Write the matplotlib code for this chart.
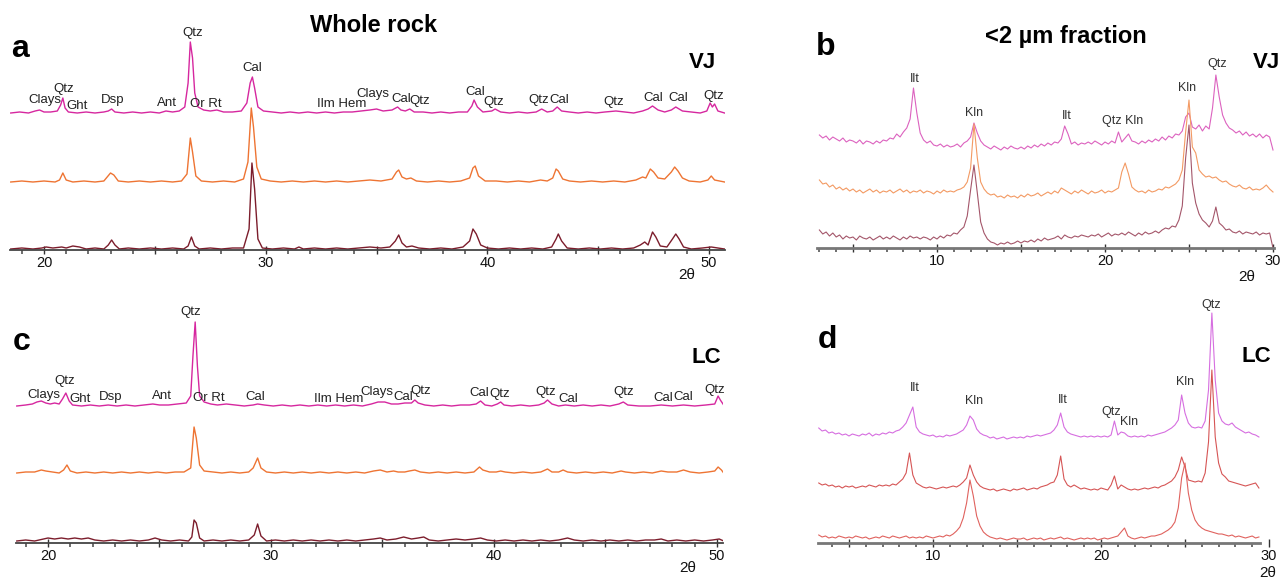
# XRD patterns: whole rock (a, c) and <2 um fraction (b, d) for VJ and LC.

import numpy as np
import matplotlib
matplotlib.use('Agg')
import matplotlib.pyplot as plt
from matplotlib.ticker import MultipleLocator, FuncFormatter

W, H = 1288, 583

# ---- whole rock, VJ (2theta, relative intensity) ----
a_top = [(18.5, 0), (18.9, 1), (19.3, 0), (19.6, 2), (19.8, 3), (20.0, 1), (20.3, 1), (20.6, 2),
         (20.75, 8), (20.85, 15), (20.95, 5), (21.1, 1), (21.5, 0), (21.9, 1), (22.3, 0), (22.7, 1),
         (22.9, 2), (23.05, 4), (23.2, 1), (23.6, 0), (24.0, 1), (24.4, 0), (24.8, 1), (25.2, 0),
         (25.5, 2), (25.8, 1), (26.1, 2), (26.35, 6), (26.5, 30), (26.6, 71), (26.7, 55), (26.8, 20),
         (26.95, 6), (27.2, 3), (27.5, 2), (27.8, 3), (28.1, 1), (28.5, 1), (28.9, 2), (29.15, 10),
         (29.3, 30), (29.4, 36), (29.5, 25), (29.65, 6), (29.9, 2), (30.3, 1), (30.7, 0), (31.1, 1),
         (31.5, 0), (31.9, 1), (32.3, 0), (32.7, 1), (33.1, 0), (33.5, 1), (33.9, 1), (34.3, 2),
         (34.7, 3), (35.0, 4), (35.3, 2), (35.7, 3), (35.95, 6), (36.1, 3), (36.3, 2), (36.5, 4),
         (36.7, 1), (37.1, 1), (37.5, 0), (37.9, 1), (38.3, 0), (38.7, 1), (39.1, 1), (39.3, 7),
         (39.4, 13), (39.55, 6), (39.8, 1), (40.2, 2), (40.35, 4), (40.6, 1), (41.0, 0), (41.4, 1),
         (41.8, 0), (42.2, 1), (42.45, 4), (42.7, 1), (42.95, 2), (43.15, 6), (43.35, 2), (43.7, 1),
         (44.1, 0), (44.5, 1), (44.9, 0), (45.3, 1), (45.8, 2), (46.2, 1), (46.6, 0), (47.0, 2),
         (47.25, 4), (47.45, 7), (47.7, 3), (48.0, 1), (48.3, 3), (48.5, 6), (48.8, 2), (49.2, 1),
         (49.6, 0), (49.9, 2), (50.05, 10), (50.15, 6), (50.25, 9), (50.4, 2), (50.7, 0)]
a_mid = [(18.5, 0), (19.0, 1), (19.5, 0), (20.0, 1), (20.5, 0), (20.7, 2), (20.85, 9), (21.0, 2),
         (21.3, 0), (21.8, 1), (22.3, 0), (22.7, 1), (22.85, 5), (23.0, 9), (23.15, 7), (23.35, 1),
         (23.8, 0), (24.3, 1), (24.8, 0), (25.3, 1), (25.8, 0), (26.2, 1), (26.45, 8), (26.6, 44),
         (26.7, 30), (26.85, 6), (27.1, 1), (27.6, 0), (28.1, 1), (28.6, 0), (29.0, 3), (29.2, 20),
         (29.35, 74), (29.45, 55), (29.6, 15), (29.8, 3), (30.2, 1), (30.7, 0), (31.2, 1), (31.7, 0),
         (32.2, 1), (32.7, 0), (33.2, 1), (33.7, 0), (34.2, 1), (34.7, 2), (35.2, 1), (35.7, 3),
         (35.9, 10), (36.0, 12), (36.15, 5), (36.35, 3), (36.55, 4), (36.8, 1), (37.3, 0), (37.8, 1),
         (38.3, 0), (38.8, 1), (39.2, 4), (39.35, 14), (39.45, 16), (39.6, 6), (39.9, 1), (40.4, 1),
         (40.9, 0), (41.4, 1), (41.9, 0), (42.4, 2), (42.7, 1), (42.95, 4), (43.1, 13), (43.2, 11),
         (43.4, 3), (43.7, 1), (44.2, 0), (44.7, 1), (45.2, 0), (45.7, 1), (46.2, 0), (46.7, 2),
         (47.0, 5), (47.15, 4), (47.35, 13), (47.5, 10), (47.7, 4), (48.0, 3), (48.3, 10), (48.45, 15),
         (48.6, 11), (48.8, 4), (49.1, 1), (49.6, 0), (49.95, 2), (50.1, 6), (50.25, 2), (50.7, 0)]
a_bot = [(18.5, 0), (19.0, 1), (19.5, 0), (19.9, 1), (20.1, 2), (20.4, 1), (20.8, 2), (21.0, 1),
         (21.3, 3), (21.6, 2), (21.9, 0), (22.3, 1), (22.7, 0), (22.9, 4), (23.05, 9), (23.2, 4),
         (23.4, 0), (23.8, 1), (24.3, 0), (24.8, 1), (25.3, 0), (25.8, 1), (26.3, 0), (26.5, 3),
         (26.65, 12), (26.8, 3), (27.0, 0), (27.5, 1), (28.0, 0), (28.5, 1), (29.0, 1), (29.25, 20),
         (29.38, 86), (29.5, 60), (29.65, 10), (29.85, 1), (30.3, 0), (30.8, 1), (31.3, 0), (31.5, 2),
         (31.7, 0), (32.2, 1), (32.7, 0), (33.2, 1), (33.7, 0), (34.2, 1), (34.7, 2), (35.2, 1),
         (35.6, 2), (35.85, 8), (36.0, 14), (36.15, 6), (36.35, 2), (36.6, 3), (36.9, 1), (37.4, 0),
         (37.9, 1), (38.4, 0), (38.9, 2), (39.2, 8), (39.35, 20), (39.5, 15), (39.7, 4), (40.0, 1),
         (40.5, 0), (41.0, 1), (41.5, 0), (42.0, 1), (42.5, 0), (42.9, 2), (43.1, 10), (43.2, 15),
         (43.35, 8), (43.6, 1), (44.1, 0), (44.6, 1), (45.1, 0), (45.6, 1), (46.1, 0), (46.6, 1),
         (46.9, 4), (47.1, 7), (47.25, 4), (47.45, 17), (47.6, 12), (47.8, 3), (48.1, 2), (48.35, 10),
         (48.5, 15), (48.65, 10), (48.85, 2), (49.2, 0), (49.7, 1), (50.1, 2), (50.7, 0)]

# ---- whole rock, LC ----
c_top = [(18.6, 0), (19.0, 1), (19.3, 2), (19.5, 4), (19.7, 5), (19.9, 3), (20.1, 2), (20.3, 3),
         (20.5, 2), (20.65, 7), (20.8, 13), (20.95, 5), (21.1, 1), (21.5, 0), (21.9, 1), (22.3, 0),
         (22.7, 1), (23.1, 0), (23.5, 1), (23.9, 0), (24.3, 1), (24.7, 2), (25.0, 1), (25.4, 1),
         (25.8, 2), (26.2, 3), (26.4, 10), (26.5, 50), (26.6, 84), (26.7, 40), (26.8, 10), (27.0, 4),
         (27.3, 2), (27.6, 1), (28.0, 2), (28.4, 1), (28.8, 0), (29.2, 1), (29.4, 2), (29.7, 1),
         (30.1, 0), (30.5, 1), (30.9, 0), (31.3, 1), (31.7, 0), (32.1, 1), (32.5, 0), (32.9, 1),
         (33.3, 0), (33.7, 1), (34.1, 0), (34.5, 2), (34.8, 4), (35.1, 4), (35.4, 2), (35.7, 2),
         (36.0, 3), (36.3, 3), (36.45, 6), (36.6, 3), (36.9, 1), (37.3, 0), (37.7, 1), (38.1, 0),
         (38.5, 1), (38.9, 1), (39.2, 2), (39.4, 5), (39.6, 1), (39.9, 0), (40.15, 2), (40.3, 4),
         (40.45, 1), (40.8, 0), (41.2, 1), (41.6, 0), (42.0, 1), (42.25, 3), (42.4, 6), (42.6, 2),
         (42.9, 0), (43.2, 1), (43.6, 0), (44.0, 1), (44.4, 0), (44.8, 1), (45.2, 0), (45.6, 2),
         (45.8, 4), (46.0, 1), (46.5, 0), (47.0, 0), (47.5, 1), (48.0, 0), (48.5, 1), (49.0, 0),
         (49.5, 1), (49.9, 2), (50.05, 10), (50.15, 6), (50.3, 1)]
c_mid = [(18.6, 0), (19.0, 1), (19.4, 1), (19.7, 3), (19.9, 2), (20.2, 1), (20.5, 0), (20.7, 3),
         (20.85, 8), (21.0, 2), (21.3, 0), (21.7, 1), (22.1, 0), (22.5, 1), (22.9, 0), (23.3, 1),
         (23.7, 0), (24.1, 1), (24.5, 0), (24.9, 1), (25.3, 0), (25.7, 1), (26.1, 1), (26.4, 5),
         (26.55, 46), (26.65, 35), (26.8, 8), (27.0, 2), (27.4, 1), (27.8, 0), (28.2, 1), (28.6, 0),
         (29.0, 1), (29.2, 5), (29.4, 15), (29.55, 5), (29.8, 1), (30.2, 0), (30.6, 1), (31.0, 0),
         (31.4, 1), (31.8, 0), (32.2, 1), (32.6, 0), (33.0, 1), (33.4, 0), (33.8, 1), (34.2, 0),
         (34.6, 2), (34.9, 3), (35.2, 1), (35.5, 2), (35.7, 1), (36.0, 1), (36.2, 2), (36.45, 3),
         (36.7, 1), (37.1, 0), (37.5, 1), (37.9, 0), (38.3, 1), (38.7, 0), (39.1, 1), (39.35, 6),
         (39.5, 3), (39.8, 1), (40.1, 1), (40.3, 2), (40.5, 1), (40.9, 0), (41.3, 1), (41.7, 0),
         (42.1, 1), (42.4, 4), (42.6, 1), (42.9, 1), (43.1, 3), (43.3, 1), (43.7, 0), (44.1, 1),
         (44.5, 0), (44.9, 1), (45.3, 0), (45.7, 2), (45.9, 1), (46.3, 0), (46.7, 1), (47.1, 0),
         (47.5, 2), (47.8, 1), (48.2, 1), (48.5, 3), (48.8, 1), (49.2, 0), (49.6, 1), (49.9, 2),
         (50.05, 6), (50.2, 3), (50.3, 0)]
c_bot = [(18.6, 0), (19.0, 1), (19.4, 0), (19.8, 2), (20.0, 3), (20.3, 2), (20.6, 3), (20.9, 2),
         (21.2, 3), (21.5, 2), (21.8, 3), (22.1, 1), (22.5, 0), (22.9, 1), (23.3, 0), (23.7, 1),
         (24.1, 0), (24.5, 1), (24.8, 3), (25.1, 1), (25.5, 0), (25.9, 1), (26.3, 0), (26.45, 4),
         (26.55, 21), (26.65, 18), (26.8, 3), (27.0, 0), (27.4, 1), (27.8, 0), (28.2, 1), (28.6, 0),
         (29.0, 1), (29.25, 6), (29.4, 17), (29.55, 5), (29.8, 0), (30.2, 1), (30.6, 0), (31.0, 1),
         (31.4, 0), (31.8, 1), (32.2, 0), (32.6, 1), (33.0, 0), (33.4, 1), (33.8, 0), (34.2, 1),
         (34.6, 2), (34.9, 3), (35.2, 1), (35.6, 2), (35.95, 4), (36.3, 2), (36.6, 3), (36.85, 4),
         (37.1, 1), (37.5, 0), (37.9, 1), (38.3, 2), (38.7, 1), (39.1, 2), (39.4, 3), (39.7, 1),
         (40.1, 0), (40.5, 1), (40.9, 0), (41.3, 1), (41.7, 0), (42.1, 1), (42.5, 0), (42.9, 1),
         (43.3, 3), (43.6, 1), (44.0, 0), (44.4, 1), (44.8, 0), (45.2, 1), (45.6, 0), (46.0, 1),
         (46.4, 0), (46.8, 1), (47.2, 1), (47.5, 2), (47.8, 0), (48.2, 1), (48.6, 0), (49.0, 1),
         (49.4, 0), (49.8, 1), (50.1, 2), (50.3, 0)]

# ---- <2 um fraction, scan from 3.0 deg, 0.2 deg step ----
b_start, b_step = 3.0, 0.2
b_top = [8, 5, 7, 3, 6, 4, 2, 5, 1, 3,            # 3.0
         2, 0, 3, -1, 2, 1, -1, 2, 0, 3,          # 5.0
         2, 5, 4, 9, 6, 11, 15, 24, 55, 30,       # 7.0
         10, 3, 0, 2, -2, -3, -1, -4, -2, -4,     # 9.0
         -3, -1, -4, 0, 2, 6, 20, 10, 2, -2,      # 11.0
         -4, -6, -3, -5, -7, -4, -6, -3, -5, -6,  # 13.0
         -4, -6, -3, -5, -2, -4, -1, -3, 0, -2,   # 15.0
         1, 0, 4, 17, 9, -1, 1, -2, 0, -1,        # 17.0
         1, -1, 2, 0, -2, 1, -1, 2, 0, 11,        # 19.0
         1, 5, 9, 2, 1, -1, 2, 0, 3, 1,           # 21.0
         4, 2, 6, 3, 7, 5, 9, 8, 12, 26,          # 23.0
         30, 16, 14, 18, 12, 17, 14, 35, 68, 46,  # 25.0
         28, 20, 15, 13, 10, 12, 8, 11, 7, 9,     # 27.0
         6, 9, 5, 8, 6, -7]                       # 29.0
b_mid = [12, 8, 9, 5, 7, 3, 5, 2, 4, 1,
         3, 0, 2, -1, 1, 3, 0, 2, -1, 1,
         0, 2, -1, 1, 3, 0, 2, -1, 1, 0,
         2, -1, 1, 0, -2, 1, -1, 2, 0, 1,
         0, 2, 3, 5, 10, 24, 68, 34, 10, 3,
         -1, -3, -2, -5, -4, -6, -3, -5, -4, -6,
         -3, -5, -2, -4, -3, -1, -4, -2, 0, -2,
         1, -1, 4, 2, 0, -2, 1, -1, 2, 0,
         -2, 1, -1, 0, 2, -1, 1, 0, 2, 4,
         20, 29, 18, 5, 2, 0, 1, -1, 2, 0,
         1, 3, 2, 5, 4, 6, 8, 12, 22, 60,
         92, 45, 39, 22, 18, 15, 16, 14, 15, 12,
         10, 11, 8, 6, 5, 7, 4, 3, 5, 2,
         3, 2, 4, 7, 3, 0]
b_bot = [8, 4, 6, 2, 5, 1, 3, -1, 2, 0,
         1, -2, 2, 0, -1, 1, -2, 0, 2, -1,
         1, -1, 2, 0, -2, 1, -1, 2, 0, 1,
         -1, 1, 0, -2, 1, -1, 2, 0, 3, 2,
         5, 4, 8, 11, 22, 48, 73, 45, 16, 5,
         -1, -4, -5, -7, -5, -6, -4, -6, -5, -3,
         -5, -3, -4, -2, -4, -1, -3, 0, -2, -1,
         0, 2, -1, 3, 1, 0, 2, 1, 3, 2,
         1, 3, 2, 4, 1, 3, 5, 2, 4, 3,
         5, 3, 6, 4, 2, 5, 3, 6, 4, 5,
         7, 5, 8, 10, 9, 12, 11, 18, 32, 80,
         113, 55, 35, 24, 18, 15, 11, 17, 31, 15,
         12, 8, 9, 6, 5, 7, 4, 6, 5, 4,
         6, 3, 5, 4, 5, -10]

d_start, d_step = 3.2, 0.2
d_top = [7, 4, 5, 2, 3, 1, 2, 0, 1, -1,           # 3.2
         1, 0, -1, 1, 0, 2, -1, 1, 0, 2,          # 5.2
         1, 3, 2, 4, 5, 8, 12, 20, 28, 8,         # 7.2
         3, 1, 0, -1, 0, -2, -1, -2, 0, -1,       # 9.2
         0, 1, 3, 5, 10, 19, 15, 6, 2, 0,         # 11.2
         -1, -3, -2, -4, -3, -2, -4, -3, -2, -3,  # 13.2
         -2, -3, -1, -2, -1, 0, -1, 0, 1, 2,      # 15.2
         5, 10, 22, 8, 3, 1, 0, -1, -2, -1,       # 17.2
         -2, -1, -2, -1, -2, -1, -2, 0, 14, 0,    # 19.2
         3, 2, -1, -2, -1, -2, -1, -2, 0, -1,     # 21.2
         0, 1, 2, 3, 5, 7, 10, 15, 40, 22,        # 23.2
         12, 8, 7, 8, 7, 14, 45, 122, 55, 22,     # 25.2
         14, 11, 10, 12, 8, 6, 4, 2, 3, 1,        # 27.2
         0, -2]                                   # 29.2
d_mid = [4, 2, 3, 1, 2, 0, 1, -1, 1, 0,
         1, -1, 0, 1, 0, 2, 1, 0, 2, 1,
         2, 1, 3, 2, 5, 8, 14, 34, 12, 4,
         2, 0, -1, 0, -1, -2, -1, 0, -1, 0,
         1, 0, 2, 5, 9, 22, 12, 5, 1, -1,
         -2, -3, -2, -4, -3, -2, -3, -4, -2, -3,
         -2, -1, -3, -2, -1, -2, 0, 1, 2, 4,
         5, 12, 31, 8, 2, 0, 2, 0, -2, -1,
         -2, -3, -2, -3, -1, -2, -3, 2, 11, -2,
         2, 0, -2, -3, -2, -3, -2, -1, -2, -1,
         0, -1, 1, 2, 4, 6, 10, 17, 30, 20,
         7, 6, 5, 6, 5, 14, 45, 117, 50, 24,
         13, 10, 6, 5, 4, 3, 2, 1, 2, 3,
         4, -1]
d_bot = [3, 1, 2, 0, 1, 0, 2, 1, 0, 1,
         0, 2, 1, 0, 1, -1, 0, 1, 0, 2,
         1, 0, 2, 1, 0, 1, 2, 0, 1, 0,
         1, 0, 2, 1, 0, 1, 2, 1, 3, 2,
         4, 7, 11, 20, 35, 58, 42, 22, 12, 6,
         3, 1, 0, -1, 0, -1, -2, -1, 0, -1,
         -1, 0, -2, -1, 0, -1, 0, -2, -1, 0,
         -1, 0, 1, -1, 0, -1, -2, -1, 0, -1,
         0, -1, 0, -2, -1, 0, -1, 0, 1, 2,
         6, 10, 2, 0, -1, 0, 1, 0, 1, 2,
         2, 3, 4, 6, 8, 11, 16, 30, 60, 75,
         45, 28, 18, 13, 10, 8, 7, 6, 5, 4,
         4, 3, 2, 3, 1, 2, 1, 0, 1, 2,
         0, 1]

# phase labels: (text, 2theta, height above axis)
a_labels = [("Clays", 20.05, 150), ("Qtz", 20.9, 161), ("Ght", 21.5, 144), ("Dsp", 23.1, 150),
            ("Ant", 25.55, 147), ("Qtz", 26.72, 217), ("Or Rt", 27.3, 146), ("Cal", 29.4, 182),
            ("Ilm Hem", 33.45, 146), ("Clays", 34.85, 156), ("Cal", 36.1, 151), ("Qtz", 36.95, 149),
            ("Cal", 39.45, 158), ("Qtz", 40.3, 148), ("Qtz", 42.3, 150), ("Cal", 43.25, 150),
            ("Qtz", 45.7, 148), ("Cal", 47.5, 152), ("Cal", 48.6, 152), ("Qtz", 50.2, 154)]
c_labels = [("Clays", 19.8, 148), ("Qtz", 20.75, 162), ("Ght", 21.45, 144), ("Dsp", 22.8, 146),
            ("Ant", 25.1, 147), ("Qtz", 26.4, 231), ("Or Rt", 27.2, 145), ("Cal", 29.3, 146),
            ("Ilm Hem", 33.05, 144), ("Clays", 34.75, 151), ("Cal", 35.95, 146), ("Qtz", 36.7, 152),
            ("Cal", 39.35, 150), ("Qtz", 40.25, 149), ("Qtz", 42.3, 151), ("Cal", 43.35, 144),
            ("Qtz", 45.8, 151), ("Cal", 47.6, 145), ("Cal", 48.5, 146), ("Qtz", 49.9, 153)]
b_labels = [("Ilt", 8.7, 169), ("Kln", 12.2, 135), ("Ilt", 17.7, 132), ("Qtz Kln", 21.05, 127),
            ("Kln", 24.9, 160), ("Qtz", 26.7, 184)]
d_labels = [("Ilt", 8.9, 155), ("Kln", 12.45, 142), ("Ilt", 17.7, 143), ("Qtz", 20.6, 131),
            ("Kln", 21.65, 121), ("Kln", 25.0, 161), ("Qtz", 26.55, 238)]

plt.rcParams['font.family'] = ['Liberation Sans', 'DejaVu Sans']
NARROW = ['Liberation Sans Narrow', 'Liberation Sans', 'DejaVu Sans']

fig = plt.figure(figsize=(W / 100, H / 100), dpi=100)


def add_panel(left, right, axis_py, top_py, xlim, spine_color, spine_lw, bounds=None):
    ax = fig.add_axes([left / W, 1 - axis_py / H, (right - left) / W, (axis_py - top_py) / H])
    ax.set_xlim(*xlim)
    ax.set_ylim(0, axis_py - top_py)
    ax.patch.set_visible(False)
    for s in ('top', 'left', 'right'):
        ax.spines[s].set_visible(False)
    ax.spines['bottom'].set_color(spine_color)
    ax.spines['bottom'].set_linewidth(spine_lw)
    if bounds:
        ax.spines['bottom'].set_bounds(*bounds)
    ax.set_yticks([])
    ax.xaxis.set_major_locator(MultipleLocator(5))
    ax.xaxis.set_minor_locator(MultipleLocator(1))
    ax.xaxis.set_major_formatter(
        FuncFormatter(lambda v, p: f'{v:.0f}' if round(v) % 10 == 0 else ''))
    ax.tick_params(axis='x', which='major', length=6, width=1, color='#333',
                   direction='inout', labelsize=10.5, pad=1, labelcolor='#111')
    ax.tick_params(axis='x', which='minor', length=3, width=1.2, color='#555')
    return ax


def pairs(trace):
    return [p[0] for p in trace], np.array([p[1] for p in trace])


def grid(start, step, values):
    return start + step * np.arange(len(values)), np.array(values)


# panel a
ax_a = add_panel(10, 725, 250, 15, (18.466, 50.72), '#444', 1.3)
for trace, off, col in [(a_top, 137, '#d6279f'), (a_mid, 68, '#ee7433'), (a_bot, 1, '#7c1d2c')]:
    x, y = pairs(trace)
    ax_a.plot(x, y + off, color=col, lw=1.0)
for t, x, y in a_labels:
    ax_a.text(x, y, t, ha='center', va='center', fontsize=9.5, family=NARROW, color='#222')

# panel c
ax_c = add_panel(16, 723, 543, 300, (18.565, 50.27), '#444', 1.3)
for trace, off, col in [(c_top, 137, '#d6279f'), (c_mid, 70, '#ee7433'), (c_bot, 2, '#7c1d2c')]:
    x, y = pairs(trace)
    ax_c.plot(x, y + off, color=col, lw=1.0)
for t, x, y in c_labels:
    ax_c.text(x, y, t, ha='center', va='center', fontsize=9.5, family=NARROW, color='#222')

# panel b
ax_b = add_panel(817, 1274, 248, 15, (2.857, 30.06), '#777', 2.0)
for vals, off, col in [(b_top, 105, '#dc62bf'), (b_mid, 56, '#f39a63'), (b_bot, 10, '#a4566a')]:
    x, y = grid(b_start, b_step, vals)
    ax_b.plot(x, y + off, color=col, lw=0.8)
for t, x, y in b_labels:
    ax_b.text(x, y, t, ha='center', va='center', fontsize=9, family=NARROW, color='#333')

# panel d
ax_d = add_panel(818, 1270, 543, 298, (3.155, 30.06), '#777', 2.0, bounds=(3.155, 29.46))
for vals, off, col in [(d_top, 108, '#d66ee0'), (d_mid, 56, '#d65555'), (d_bot, 5, '#e0625e')]:
    x, y = grid(d_start, d_step, vals)
    ax_d.plot(x, y + off, color=col, lw=0.8)
for t, x, y in d_labels:
    ax_d.text(x, y, t, ha='center', va='center', fontsize=9, family=NARROW, color='#333')
for tk in ax_d.xaxis.get_major_ticks():
    if abs(tk.get_loc() - 30) < 0.01:
        tk.tick1line.set_visible(False)


def ftext(px, py, s, **kw):
    fig.text(px / W, 1 - py / H, s, **kw)


bold = dict(fontweight='bold', color='black')
ftext(374, 32, 'Whole rock', fontsize=17, ha='center', va='baseline', **bold)
ftext(1066, 43, '<2 µm fraction', fontsize=17, ha='center', va='baseline', **bold)
ftext(11, 57, 'a', fontsize=23, ha='left', va='baseline', **bold)
ftext(816, 55, 'b', fontsize=23, ha='left', va='baseline', **bold)
ftext(13, 350, 'c', fontsize=23, ha='left', va='baseline', **bold)
ftext(818, 348, 'd', fontsize=23, ha='left', va='baseline', **bold)
ftext(702, 68, 'VJ', fontsize=16, ha='center', va='baseline', **bold)
ftext(1266, 68, 'VJ', fontsize=16, ha='center', va='baseline', **bold)
ftext(706, 363, 'LC', fontsize=16, ha='center', va='baseline', **bold)
ftext(1256, 362, 'LC', fontsize=16, ha='center', va='baseline', **bold)
ftext(687, 275, '2θ', fontsize=11, ha='center', va='center', color='#111')
ftext(688, 568, '2θ', fontsize=11, ha='center', va='center', color='#111')
ftext(1247, 277, '2θ', fontsize=11, ha='center', va='center', color='#111')
ftext(1268, 573, '2θ', fontsize=11, ha='center', va='center', color='#111')

fig.savefig('out.png', dpi=100)
